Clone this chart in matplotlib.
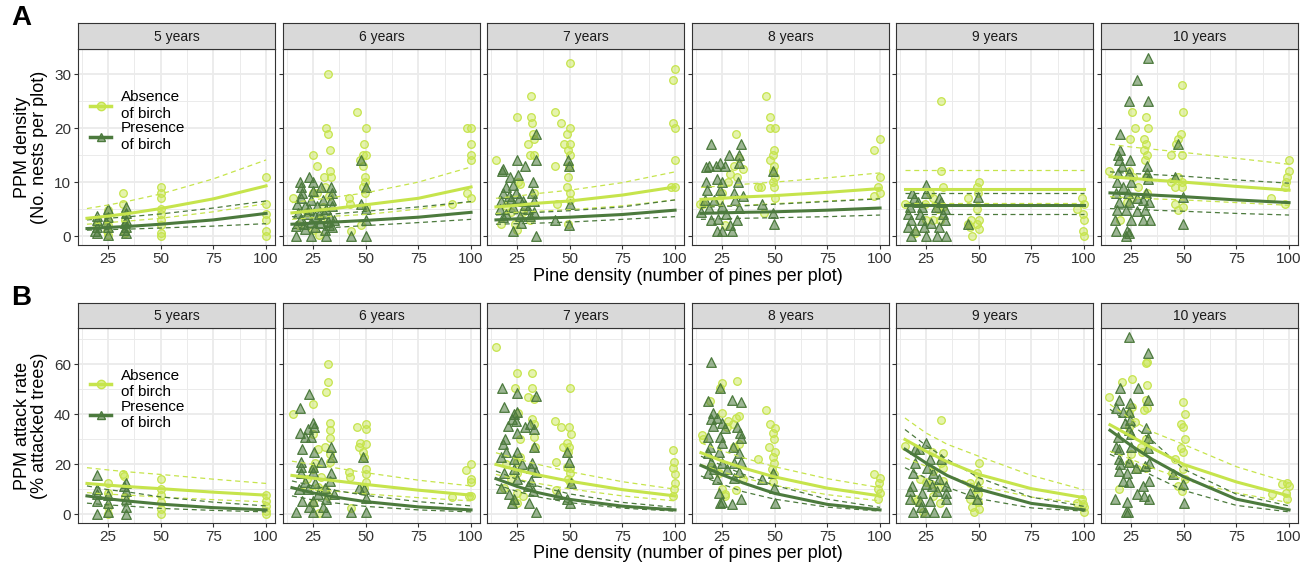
import matplotlib.pyplot as plt
from matplotlib.lines import Line2D
from matplotlib.ticker import MultipleLocator

plt.rcParams["font.family"] = ["Liberation Sans", "DejaVu Sans"]

years = ["5 years", "6 years", "7 years", "8 years", "9 years", "10 years"]
fit_x = [15, 25, 35, 50, 75, 100]

# --- A: PPM density, points (pine density, nests) ---
densA5_abs = [(25, 4.8), (25, 3), (25, 0.2), (24.5, 1), (32, 8), (32, 6), (33, 4.2), (33, 3), (33, 0.5), (50, 9), (50, 8),
              (50, 7), (50, 5), (50, 4), (50, 3), (50, 2), (50, 0.5), (50, 0), (100, 11), (100, 6), (100, 4), (100, 3),
              (100, 1), (100, 0), (20, 2), (25, 2)]
densA5_pres = [(19.8, 3.8), (19.8, 3), (19.8, 1.7), (19.8, 0.5), (25, 5), (25, 3.6), (25, 1.7), (25, 0.2), (24.2, 2.7),
               (33.7, 5.4), (33.7, 4.2), (33.7, 3), (33.7, 1.7), (33.7, 0.5), (32.5, 1.1), (19, 1), (33, 2.5)]
densA6_abs = [(32, 30), (46, 23), (31, 20), (32, 19), (50, 20), (33, 16), (25, 15), (27, 13), (49, 17), (48.5, 15),
              (50, 15), (47.5, 14), (48.5, 13), (33, 12), (30, 11), (33.5, 11), (49.5, 11), (49.5, 10), (48.5, 9),
              (49.5, 8), (15.5, 7), (25, 8), (27, 8), (32.5, 7.4), (42, 7), (42.5, 6), (91, 6), (98, 8), (100, 7),
              (98, 20), (100, 20), (100, 17), (100, 15), (100, 14), (29.5, 5.4), (29, 3.3), (25, 1.1), (28, 0.2),
              (43, 1), (48, 2), (50, 5.4), (30.5, 9), (22, 4.5), (18, 2)]
densA6_pres = [(23, 11), (19, 10), (25, 10), (19.5, 9), (29, 9), (33.5, 9), (20, 8), (25, 8.3), (34, 8), (19.5, 7),
               (24, 6.7), (29.5, 6.7), (33.5, 6.7), (17.5, 6), (21, 5.5), (27, 5.5), (31, 5), (34, 5.5), (18, 4.2),
               (22, 4), (26, 3.8), (30, 4.3), (33, 3.6), (19, 3), (24, 2.6), (28.5, 2.4), (32, 2.8), (35, 3),
               (17, 1.8), (21, 1.4), (26, 1.7), (30.5, 1.2), (34, 1.6), (48, 14), (50, 9), (48, 6), (50, 5), (50, 3),
               (17, 0), (24, 0), (31, 0), (43, 0), (50, 0), (20.5, 2.2), (23, 5), (28, 4), (32.5, 2)]
densA7_abs = [(50, 32), (100, 31), (99, 29), (31.5, 26), (25, 22), (31.5, 22), (32, 21), (43, 23), (46, 21), (50, 20),
              (48.5, 19), (32.5, 19), (33, 18), (30, 17), (47.5, 17), (50, 17), (49, 16), (50, 15), (31, 15), (33, 15),
              (15, 14), (43, 13), (49.5, 13), (49, 11), (99, 21), (100, 20), (100, 14), (98, 9), (100, 9), (25.5, 10),
              (26.5, 9.7), (33, 8), (44, 6), (48.5, 9), (50, 8), (50, 6.7), (49, 2.3), (25, 1.1), (24, 2.2),
              (17.5, 2.3), (22, 4.5), (20, 5.5), (28, 4.5), (31, 3)]
densA7_pres = [(34, 19), (25, 14), (29, 13), (34, 14), (18, 12), (18.5, 12.5), (21.5, 11), (25.5, 11.3), (20, 9),
               (23, 9.5), (32.5, 10), (18.5, 8), (24.5, 8), (32, 8), (17.5, 6.5), (22, 6.8), (28, 6.5), (33, 6.5),
               (17, 5), (23, 5.3), (30, 5), (18.5, 3.5), (26.5, 3.8), (31, 3.8), (23, 1), (34, 0), (49, 14),
               (49.5, 13), (50, 6), (49.5, 2), (43, 3), (20, 4), (27, 2.5), (29, 5.8), (21, 7.5), (26, 7), (33, 4.5)]
densA8_abs = [(46, 26), (48, 22), (48, 20), (50, 20), (31.5, 19), (100, 18), (97, 16), (49.5, 16), (49, 15), (48, 14),
              (49.5, 13), (49, 12), (50, 11), (33, 14.5), (30.5, 13), (32, 11), (42, 9), (43.5, 9), (49, 10),
              (49.5, 9), (50, 7), (100, 11), (99, 9), (100, 8), (16, 6), (14.5, 6), (26.5, 2), (45, 4.2), (25, 8),
              (23.5, 6.7), (29, 11.5), (28, 10), (35, 12.5), (97, 7.5)]
densA8_pres = [(20, 17), (34, 17), (19, 13), (24, 13.5), (28.5, 15), (33, 15), (17.5, 12.8), (22, 13), (26.5, 13),
               (33, 13.5), (17.5, 10), (22.5, 10.5), (32.5, 10), (25, 10), (18, 8.5), (24, 8.5), (30.5, 8), (17, 6.7),
               (21, 6.7), (31, 6.7), (19, 5.2), (25, 5.5), (33, 5.2), (20, 3), (23, 3.2), (32, 3), (22.5, 1), (25, 1),
               (29.5, 1), (44, 6), (49, 12), (49, 4.2), (49.5, 2.2), (27, 4), (29, 2), (15, 4.5), (35, 7.5)]
densA9_abs = [(32, 25), (32, 12), (33, 9), (28.5, 7), (15, 6), (50, 10), (49, 9), (49.5, 8), (45, 7), (49, 5),
              (45, 2.2), (46.5, 3), (49, 2.2), (50, 1.4), (47, 0), (46, 1.7), (50, 3), (99, 7), (100, 6), (96.5, 5),
              (99.5, 4), (100, 3), (99.5, 1), (100, 0), (24.5, 6), (25, 3), (28.5, 3), (31.5, 3), (20, 0.5),
              (33, 5.4), (27, 8), (30.5, 5)]
densA9_pres = [(25, 9.4), (18.5, 8), (25, 8), (19.5, 7), (31, 7), (34, 5), (17.5, 5.4), (23, 5.4), (29.5, 5.4),
               (16.5, 4), (22, 4), (33, 4), (18, 3), (23, 3), (34, 3), (16.5, 1.7), (24, 1.7), (31, 1.7), (20, 1.1),
               (18, 0), (25, 0), (30, 0), (34.5, 0), (45, 2.2), (49.5, 7.3), (21, 6.3), (27.5, 2.5), (32, 6.3)]
densA10_abs = [(49, 28), (49.5, 23), (25.5, 23), (32, 22), (27, 20), (33, 20), (24.5, 18), (31, 18), (32, 17),
               (31, 16), (48.5, 19), (47.5, 18), (46.5, 17), (32.5, 15), (31.5, 14), (44, 15), (49, 15), (100, 14),
               (100, 12), (99, 11), (98.5, 10), (98, 9), (91.5, 7), (98, 6), (14.5, 12), (24, 12), (32, 11), (44, 10),
               (47.5, 11), (49, 10), (46, 9), (49, 9), (28.5, 9), (32.5, 8), (25.5, 7), (23, 6.4), (46, 6),
               (49.5, 5.4), (20, 3), (47.5, 4.8), (26, 11)]
densA10_pres = [(33, 33), (28, 29), (24, 25), (33, 25), (20, 19), (20, 16), (19, 15), (19.5, 14), (20.5, 13),
                (24.5, 14), (32.5, 13), (19, 11.6), (24, 11.6), (32.5, 11.6), (18.5, 10), (25, 10), (33, 10.5),
                (18, 8), (23.5, 8), (32, 8), (19.5, 6.4), (24, 6.4), (30.5, 6.6), (33.5, 6.4), (18.5, 4.8),
                (22.5, 4.8), (28, 4.6), (31.5, 4.8), (17.5, 3), (25, 3), (30.5, 3), (34, 3), (18, 1), (23, 1),
                (22.5, 0), (24, 0.5), (47.5, 17), (46, 11), (49.5, 7.3), (49.5, 2.2), (28, 7), (21, 9)]

# --- B: attack rate, points (pine density, % attacked) ---
rateB5_abs = [(25, 12.3), (25, 8.6), (25, 0), (32, 16), (32.5, 15.3), (50, 14.2), (50, 10.2), (50, 7.6), (50, 4.9),
              (50, 2), (50, 0), (100, 7.6), (100, 5.3), (100, 3.3), (100, 1.3), (100, 0), (33, 7), (25, 3)]
rateB5_pres = [(19.8, 15.5), (19.8, 10.2), (19.8, 5.3), (19.8, 0), (25, 7.6), (25, 4.6), (33.7, 12.6), (33.7, 9.3),
               (33.7, 6), (33.7, 2.7), (33.7, 0), (32.5, 11.3), (20, 8), (25, 1)]
rateB6_abs = [(32, 60), (32, 53), (31, 49), (25, 44), (15.5, 40), (33, 36.5), (33, 33.5), (33, 30.5), (25, 32),
              (46, 35), (50, 36), (50, 34), (47.5, 28.5), (50, 28), (47, 27), (48.5, 25), (49, 23), (30.5, 27),
              (27.5, 26), (33, 24), (33, 21), (26, 20.5), (25, 18), (50, 18), (50, 16), (42, 17), (42.5, 15),
              (50, 13), (49, 10.6), (100, 20), (97.5, 17.6), (100, 14), (100, 13), (91, 7), (99, 7.3), (100, 7.3),
              (27.5, 11), (25, 4.4), (28, 0.4), (43, 2.6), (32, 7.3), (30.5, 10), (22, 14), (29, 15)]
rateB6_pres = [(23, 48), (19, 42.5), (25, 36.5), (19, 32.5), (21, 31), (24, 31), (22.5, 34), (25.5, 35), (33.5, 27),
               (20, 26), (25.5, 25), (19.5, 21), (29, 21), (34, 23), (25, 19), (19.5, 19), (19.5, 16.5), (25, 16.8),
               (33.5, 16.5), (21, 13), (26, 12.5), (33, 13.3), (18.5, 10), (22.5, 10), (30.5, 10.6), (20, 5.3),
               (25, 5.3), (31, 6), (17, 0.7), (25, 0.7), (31, 0.7), (43, 0.7), (50, 0.7), (48.5, 23), (49, 10),
               (50, 6.6), (47, 10.6), (27.5, 8), (23, 3), (29.5, 3), (35, 8)]
rateB7_abs = [(15, 67), (25, 56.4), (32, 56.4), (24, 50.4), (32, 50.4), (50, 50.4), (30, 47), (33, 46), (25.5, 40.5),
              (32, 38), (33, 36), (43, 37.5), (46, 35), (49.5, 35), (50.5, 32), (26.5, 30), (48.5, 28.5), (49.5, 27),
              (49, 25), (47, 27), (33, 31), (33.5, 27), (43.5, 21), (48.5, 19), (50, 18.5), (49, 14), (50, 16.6),
              (26.5, 23), (25, 21), (25, 16.6), (99, 25.6), (99.5, 21), (99, 18.5), (100, 16), (100, 12.6),
              (99.5, 10), (99, 7.3), (19, 10.6), (25, 8.6), (28, 7.3), (43.5, 9.7), (23.5, 5.3), (25, 4.4),
              (50, 12.9), (20, 20), (22, 14)]
rateB7_pres = [(18, 50.4), (25, 48.5), (34, 47.4), (19, 43), (23.5, 40), (22.5, 38), (25, 41), (20.5, 35.5),
               (24.5, 37.5), (29, 35), (31, 36), (25, 32.5), (33, 34), (19.5, 30), (18.5, 28), (20, 25), (25, 25),
               (33, 27), (17.5, 23), (23.5, 22), (32, 20.6), (23.5, 18), (31.5, 18.5), (34, 17), (19, 16.6), (25, 14),
               (31.5, 13.3), (17.5, 10.6), (30, 11.3), (32.5, 9.3), (23.5, 6), (30.5, 4.6), (22.5, 4.4), (34, 0.7),
               (48.5, 25), (49.5, 21), (50.5, 12.6), (50, 4.4), (48.5, 6.2), (44.5, 8), (27.5, 20), (21, 8)]
rateB8_abs = [(25, 52.4), (32, 53.4), (24, 50.4), (19.5, 45.5), (25, 40.5), (30, 36), (31.5, 38.5), (33, 39.4),
              (27.5, 35), (28, 37.5), (46, 41.8), (48, 36), (50, 34.5), (49, 32.5), (49.5, 30), (15.5, 31.5), (16, 30),
              (30.5, 27), (33, 28), (47.5, 27), (50, 25), (49, 23), (49.5, 20.6), (48.5, 18), (49.5, 16), (49, 12.9),
              (42, 22), (100, 14.6), (97, 16), (99.5, 12.3), (99, 10), (100, 8.6), (99, 6.2), (26.5, 7.3),
              (31.5, 9.7), (23.5, 16.6), (25, 10), (26.5, 8), (35, 14), (20, 19)]
rateB8_pres = [(20, 61), (24, 50.4), (18.5, 45.5), (29.5, 45.8), (34, 45), (20.5, 40.5), (20, 38), (22.5, 38.5),
               (25, 36.5), (20.5, 35.5), (26.5, 34.5), (32, 35), (18.5, 31), (24, 31), (33.5, 32.5), (34, 30.5),
               (19.5, 27), (25, 28.5), (30, 27), (18.5, 24.5), (23.5, 25), (33, 24.5), (20, 21), (25, 20.6),
               (30.5, 20.6), (34, 21), (21, 18), (27.5, 18), (33, 17), (18.5, 16.6), (22.5, 14), (30.5, 14.6),
               (23.5, 8.6), (24, 4.6), (34, 6), (25, 4.9), (29.5, 4), (44, 14), (49.5, 10.6), (50, 4.6), (49, 16.6)]
rateB9_abs = [(32, 37.8), (15, 27.2), (28, 25), (33, 24.3), (50, 20.3), (49, 16.6), (32, 20.6), (28.5, 17.3),
              (33, 18.6), (25, 12.9), (27.5, 12), (30.5, 10.6), (33, 13.3), (46, 12.6), (50, 13.3), (48.5, 10),
              (49.5, 8), (46, 6), (49.5, 4.9), (47, 2.7), (50, 2), (48, 0.7), (20, 6), (23.5, 0.7), (20.5, 5.3),
              (28.5, 7.3), (31.5, 4.6), (96.5, 4.4), (99, 6), (99.5, 4), (100, 2.7), (100, 0.7), (22, 14)]
rateB9_pres = [(25, 28.5), (20, 26), (21.5, 26), (32, 22), (27, 22), (20, 20.6), (25.5, 18.6), (19, 16.6),
               (28.5, 16.6), (18.5, 11.3), (25, 12), (28, 11.3), (34.5, 11.3), (17.5, 9.3), (23, 8.6), (30, 9.3),
               (34.5, 8.6), (17.5, 6), (22, 5.3), (27, 5.3), (34.5, 6.2), (19, 0.7), (24.5, 0.7), (29, 0.7),
               (34.5, 0.7), (46, 8.6), (49.5, 11.3), (49, 6), (31, 14), (22.5, 3)]
rateB10_abs = [(32, 60.4), (32.5, 61), (25.5, 54), (20.5, 53), (32.5, 51.8), (14.5, 47), (32, 45.8), (32.5, 42.5),
               (31, 41.8), (24, 40.5), (25.5, 43), (49.5, 45), (50.5, 40), (48.5, 36), (49.5, 35), (27, 37), (24, 35),
               (50.5, 30), (48.5, 26.5), (49.5, 25), (46, 22), (29.5, 27), (32, 30), (24, 20.6), (28, 18),
               (32, 18.6), (44.5, 16.6), (49.5, 18), (50.5, 14), (47.5, 11.3), (49, 9.3), (19.5, 10), (96.5, 12),
               (99, 12.6), (100, 11.3), (98.5, 8.6), (92, 8), (99, 6), (25, 24), (30, 25)]
rateB10_pres = [(24, 71), (33, 64.4), (20, 50.4), (28.5, 50.4), (19.5, 45.8), (24.5, 44.5), (33, 45.8), (18, 42.5),
                (21, 41), (24, 41), (22, 36.5), (24.5, 37.8), (32, 34.5), (24, 33.8), (19, 31), (25, 32), (33, 30.5),
                (18, 27), (19.5, 26), (25, 27), (33, 26.5), (19.5, 22), (24, 21), (33.5, 20.6), (19.5, 17.3),
                (23, 16.6), (27.5, 18.6), (31.5, 19.3), (21, 13.3), (24, 13), (30.5, 11.3), (33.5, 13.3), (17.5, 6),
                (23, 4.9), (31, 7.3), (33.5, 6.2), (22.5, 0.7), (23.5, 0.7), (45, 16), (49.5, 12), (50, 4.4), (28, 8),
                (20, 20)]

# --- model fits read at fit_x (fit, lower CI, upper CI), one row per year ---
densA_abs_fit = [[3.3, 3.7, 4.2, 5.1, 6.9, 9.3], [4.3, 4.7, 5.1, 5.8, 7.0, 9.1], [5.4, 5.7, 6.1, 6.5, 7.6, 9.1],
                 [6.8, 7.0, 7.25, 7.5, 8.1, 8.8], [8.7] * 6, [11.0, 10.7, 10.4, 10.0, 9.2, 8.5]]
densA_abs_lo = [[2.2, 2.5, 2.8, 3.3, 4.5, 6.0], [3.1, 3.4, 3.7, 4.0, 5.0, 6.4], [4.2, 4.4, 4.6, 4.9, 5.6, 6.7],
                [5.4, 5.6, 5.7, 6.0, 6.5, 7.0], [6.2] * 6, [7.3, 7.1, 6.9, 6.7, 6.2, 5.7]]
densA_abs_hi = [[5.1, 5.75, 6.5, 7.8, 10.6, 14.1], [6.2, 6.7, 7.2, 8.0, 10.0, 12.8], [7.0, 7.4, 7.9, 8.5, 9.9, 11.9],
                [9.0, 9.3, 9.6, 10.0, 10.8, 11.7], [12.2] * 6, [17.0, 16.5, 16.1, 15.5, 14.4, 13.3]]
densA_pres_fit = [[1.4, 1.6, 1.8, 2.2, 3.0, 4.2], [2.2, 2.4, 2.6, 2.9, 3.5, 4.4], [3.0, 3.2, 3.3, 3.5, 4.0, 4.8],
                  [4.2, 4.3, 4.4, 4.5, 4.8, 5.2], [5.7] * 6, [8.0, 7.8, 7.6, 7.3, 6.7, 6.2]]
densA_pres_lo = [[1.1, 1.2, 1.3, 1.5, 1.85, 2.3], [1.4, 1.5, 1.6, 1.95, 2.5, 3.1], [2.2, 2.3, 2.4, 2.6, 3.1, 3.6],
                 [3.1, 3.2, 3.3, 3.4, 3.6, 3.9], [4.1] * 6, [5.1, 5.0, 4.8, 4.6, 4.2, 3.9]]
densA_pres_hi = [[3.0, 3.3, 3.6, 4.1, 5.2, 6.5], [3.6, 3.85, 4.1, 4.6, 5.4, 6.4], [3.9, 4.15, 4.4, 4.7, 5.4, 6.7],
                 [5.3, 5.5, 5.6, 5.9, 6.4, 6.9], [7.9] * 6, [11.9, 11.6, 11.4, 11.1, 10.4, 9.8]]

rateB_abs_fit = [[12.3, 11.6, 11.0, 10.2, 8.8, 7.6], [15.5, 14.4, 13.4, 11.9, 9.6, 7.6],
                 [19.9, 17.7, 15.7, 13.2, 9.8, 7.3], [24.6, 21.3, 18.5, 14.9, 10.4, 7.3],
                 [29.9, 25.2, 21.0, 15.9, 10.2, 6.6], [35.8, 31.2, 26.5, 19.9, 12.9, 7.3]]
rateB_abs_lo = [[8.6, 8.0, 7.6, 6.8, 5.8, 4.9], [10.6, 9.8, 9.2, 8.1, 6.6, 5.3], [15.9, 14.0, 12.3, 10.1, 7.3, 5.3],
                [19.9, 17.0, 14.6, 11.5, 7.8, 5.3], [22.6, 19.2, 15.5, 11.3, 6.8, 4.4],
                [25.2, 22.0, 18.5, 13.9, 8.5, 4.6]]
rateB_abs_hi = [[18.6, 17.7, 16.9, 15.9, 14.0, 12.3], [21.2, 19.9, 18.6, 16.6, 13.6, 11.3],
                [24.6, 22.1, 19.9, 17.0, 13.0, 10.0], [28.5, 25.4, 22.6, 19.0, 14.2, 10.6],
                [38.5, 32.5, 28.0, 23.2, 15.5, 9.7], [44.0, 38.0, 33.0, 27.9, 19.0, 12.6]]
rateB_pres_fit = [[7.3, 6.15, 5.2, 4.0, 2.6, 1.7], [10.6, 8.5, 6.9, 5.0, 2.9, 1.7], [14.2, 11.1, 8.6, 5.9, 3.2, 1.7],
                  [19.5, 15.8, 12.5, 8.3, 3.9, 1.7], [26.0, 20.5, 15.5, 10.0, 4.3, 1.7],
                  [33.6, 27.5, 22.0, 15.0, 6.0, 1.7]]
rateB_pres_lo = [[4.4, 3.7, 3.2, 2.3, 1.5, 0.9], [7.3, 5.7, 4.5, 3.1, 1.7, 0.9], [11.9, 9.1, 6.9, 4.6, 2.4, 1.2],
                 [15.3, 12.0, 9.0, 6.0, 2.8, 1.2], [18.6, 14.5, 10.8, 6.2, 2.5, 1.2], [24.0, 20.0, 15.5, 9.5, 3.5, 0.9]]
rateB_pres_hi = [[11.3, 9.8, 8.8, 6.9, 4.8, 3.3], [13.3, 11.3, 9.6, 7.5, 5.0, 3.3], [17.3, 13.9, 11.2, 8.1, 4.7, 2.7],
                 [23.2, 19.5, 16.0, 11.5, 6.0, 2.7], [33.9, 27.5, 22.0, 14.6, 6.8, 3.1],
                 [42.0, 36.0, 29.5, 18.0, 8.0, 3.3]]

densA_abs = [densA5_abs, densA6_abs, densA7_abs, densA8_abs, densA9_abs, densA10_abs]
densA_pres = [densA5_pres, densA6_pres, densA7_pres, densA8_pres, densA9_pres, densA10_pres]
rateB_abs = [rateB5_abs, rateB6_abs, rateB7_abs, rateB8_abs, rateB9_abs, rateB10_abs]
rateB_pres = [rateB5_pres, rateB6_pres, rateB7_pres, rateB8_pres, rateB9_pres, rateB10_pres]

light = "#c6e44c"
dark = "#4c7a3d"
frame = "#333333"

W, H = 1311, 567
fig = plt.figure(figsize=(W / 100, H / 100), dpi=100)
lefts = [78, 283, 487, 692, 896, 1101]
pw = 197

rows = [
    dict(strip=23, top=49, bottom=245, ylim=(-1.65, 34.65), major=10, minor=5,
         pts=(densA_abs, densA_pres),
         fits=(densA_abs_fit, densA_abs_lo, densA_abs_hi, densA_pres_fit, densA_pres_lo, densA_pres_hi),
         ylabel="PPM density\n(No. nests per plot)", letter="A", xlab_y=277),
    dict(strip=303, top=328, bottom=523, ylim=(-3.55, 74.55), major=20, minor=10,
         pts=(rateB_abs, rateB_pres),
         fits=(rateB_abs_fit, rateB_abs_lo, rateB_abs_hi, rateB_pres_fit, rateB_pres_lo, rateB_pres_hi),
         ylabel="PPM attack rate\n(% attacked trees)", letter="B", xlab_y=553),
]

for row in rows:
    abs_pts, pres_pts = row["pts"]
    a_fit, a_lo, a_hi, p_fit, p_lo, p_hi = row["fits"]
    for k, year in enumerate(years):
        l = lefts[k]
        ax = fig.add_axes([l / W, 1 - row["bottom"] / H, pw / W, (row["bottom"] - row["top"]) / H])
        ax.set_xlim(10.75, 104.25)
        ax.set_ylim(*row["ylim"])
        ax.xaxis.set_major_locator(MultipleLocator(25))
        ax.xaxis.set_minor_locator(MultipleLocator(12.5))
        ax.yaxis.set_major_locator(MultipleLocator(row["major"]))
        ax.yaxis.set_minor_locator(MultipleLocator(row["minor"]))
        ax.grid(which="major", color="#ebebeb", lw=1.3)
        ax.grid(which="minor", color="#ebebeb", lw=0.7)
        ax.set_axisbelow(True)

        xa, ya = zip(*abs_pts[k])
        xp, yp = zip(*pres_pts[k])
        ax.scatter(xa, ya, marker="o", s=30, facecolor=(0.78, 0.9, 0.3, 0.45), edgecolor=light, lw=0.9, zorder=2)
        ax.scatter(xp, yp, marker="^", s=48, facecolor=(0.3, 0.48, 0.24, 0.55), edgecolor=dark, lw=0.9, zorder=2)

        ax.plot(fit_x, a_lo[k], color=light, lw=0.9, ls=(0, (4, 3)), zorder=3)
        ax.plot(fit_x, a_hi[k], color=light, lw=0.9, ls=(0, (4, 3)), zorder=3)
        ax.plot(fit_x, p_lo[k], color=dark, lw=0.9, ls=(0, (4, 3)), zorder=3)
        ax.plot(fit_x, p_hi[k], color=dark, lw=0.9, ls=(0, (4, 3)), zorder=3)
        ax.plot(fit_x, a_fit[k], color=light, lw=2.2, zorder=4)
        ax.plot(fit_x, p_fit[k], color=dark, lw=2.2, zorder=4)

        ax.tick_params(which="major", direction="out", length=3, width=0.8, color=frame,
                       labelsize=11, labelcolor="#333333", pad=2)
        ax.tick_params(which="minor", length=0)
        if k > 0:
            ax.tick_params(labelleft=False)
        for s in ax.spines.values():
            s.set_color(frame)
            s.set_linewidth(0.8)

        sax = fig.add_axes([l / W, 1 - row["top"] / H, pw / W, (row["top"] - row["strip"]) / H])
        sax.set_facecolor("#d9d9d9")
        sax.set_xticks([])
        sax.set_yticks([])
        for s in sax.spines.values():
            s.set_color(frame)
            s.set_linewidth(0.8)
        sax.text(0.5, 0.47, year, ha="center", va="center", fontsize=10, color="#1a1a1a", transform=sax.transAxes)

        if k == 0:
            handles = [
                Line2D([0], [0], color=light, lw=2.5, marker="o", markersize=6,
                       markerfacecolor=(0.78, 0.9, 0.3, 0.6), markeredgecolor=light),
                Line2D([0], [0], color=dark, lw=2.5, marker="^", markersize=6,
                       markerfacecolor=(0.3, 0.48, 0.24, 0.6), markeredgecolor=dark),
            ]
            ax.legend(handles, ["Absence\nof birch", "Presence\nof birch"], loc="upper left",
                      bbox_to_anchor=(0.03, 0.82), frameon=False, fontsize=11, handlelength=1.4,
                      handletextpad=0.6, labelspacing=0.05, borderaxespad=0)

    ymid = 1 - (row["top"] + row["bottom"]) / 2 / H
    fig.text(31 / W, ymid, row["ylabel"], rotation=90, ha="center", va="center", fontsize=13,
             linespacing=1.0)
    fig.text(688 / W, 1 - row["xlab_y"] / H, "Pine density (number of pines per plot)", ha="center",
             va="center", fontsize=13)
    fig.text(21 / W, 1 - (row["strip"] - 5) / H, row["letter"], ha="center", va="center", fontsize=20,
             fontweight="bold")

fig.savefig("out.png", dpi=100)
